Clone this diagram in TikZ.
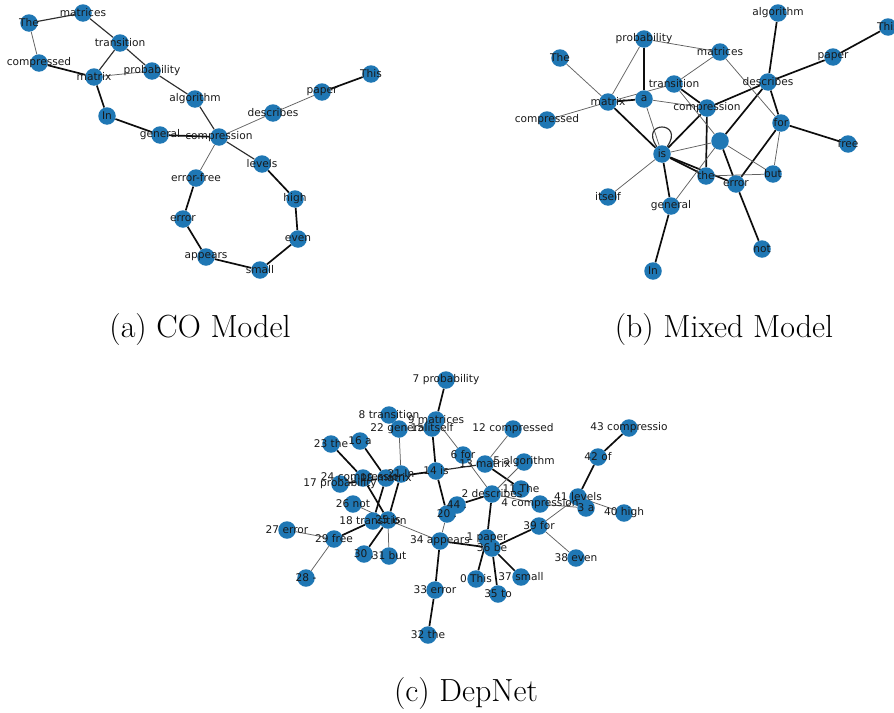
\documentclass[tikz,border=0pt]{standalone}
\usepackage{fontspec}
\newfontfamily\lblfont{DejaVu Sans}
\definecolor{nodeblue}{HTML}{1F77B4}
\pgfdeclarelayer{edgelayer}
\pgfsetlayers{edgelayer,main}
\tikzset{
  vert/.style={circle, fill=nodeblue, draw=none, minimum size=17.5pt, inner sep=0pt},
  lbl/.style={font=\lblfont\fontsize{10.6}{12}\selectfont, text=black!90, inner sep=0pt},
  thin edge/.style={line width=0.75pt, draw=black!62},
  mid edge/.style={line width=1.15pt, draw=black!82},
  bold edge/.style={line width=1.7pt, draw=black!95},
  caption/.style={font=\fontsize{32}{38}\selectfont, inner sep=0pt}
}

% vertex lists: name / x / y / label
\def\panelA{aThe/29/23/The, amatrices/83/13/matrices, atransition/120/43/transition,
  acompressed/39/63/compressed, amatrix/94/77/matrix, aprobability/152/71/probability,
  aalgorithm/195/99/algorithm, aIn/107/116/In, ageneral/160/135/general,
  acompression/219/137/compression, adescribes/273/113/describes, apaper/322/92/paper,
  aThis/371/74/This, alevels/262/164/levels, aerrorfree/196/178/error-free,
  ahigh/295/199/high, aerror/183/219/error, aeven/298/239/even,
  aappears/206/257/appears, asmall/260/270/small}
\def\panelB{balgorithm/778/13/algorithm, bThis/888/27/This, bprobability/644/39/probability,
  bmatrices/720/52/matrices, bThe/560/58/The, bpaper/833/57/paper,
  bdescribes/768/82/describes, btransition/674/84/transition, bmatrix/608/102/matrix,
  ba/644/99/a, bcompression/707/108/compression, bcompressed/547/120/compressed,
  bfor/781/123/for, bfree/848/144/free, bblank/720/141/{}, bis/662/154/is,
  bthe/706/176/the, bbut/773/174/but, berror/736/184/error, bitself/608/197/itself,
  bgeneral/671/206/general, bnot/762/249/not, bIn/653/271/In}
\def\panelC{c0/476/579/0 This, c1/487/538/1 paper, c2/492/494/2 describes, c3/586/508/3 a,
  c4/540/504/4 compression, c5/524/462/5 algorithm, c6/463/455/6 for,
  c7/446/380/7 probability, c8/389/415/8 transition, c9/436/420/9 matrices,
  c11/521/489/11 The, c12/513/429/12 compressed, c13/485/464/13 matrix, c14/436/471/14 is,
  c15/432/428/15 itself, c16/360/441/16 a, c17/340/484/17 probability,
  c18/373/521/18 transition, c19/386/478/19 matrix, c20/447/514/20 ., c21/401/474/21 In,
  c22/399/429/22 general, c23/331/444/23 the, c24/363/478/24 compression, c25/388/520/25 is,
  c26/353/504/26 not, c27/287/530/27 error, c28/306/578/28 -, c29/334/539/29 free,
  c30/364/554/{30 ,}, c31/389/556/31 but, c32/428/635/32 the, c33/435/590/33 error,
  c34/440/541/34 appears, c35/498/594/35 to, c36/492/548/36 be, c37/521/577/37 small,
  c38/576/558/38 even, c39/539/526/39 for, c40/624/513/40 high, c41/578/497/41 levels,
  c42/598/457/42 of, c43/629/428/43 compressio, c44/457/505/44 .}

\begin{document}
\begin{tikzpicture}[x=1pt, y=-1pt]
\useasboundingbox (0,0) rectangle (894,712);
\clip (0,0) rectangle (894,712);

% vertices
\foreach \n/\x/\y/\t in \panelA {\node[vert] (\n) at (\x,\y) {};}
\foreach \n/\x/\y/\t in \panelB {\node[vert] (\n) at (\x,\y) {};}
\foreach \n/\x/\y/\t in \panelC {\node[vert] (\n) at (\x,\y) {};}

\begin{pgfonlayer}{edgelayer}
% (a) CO Model
\foreach \u/\v in {amatrix/aIn, aIn/ageneral, ageneral/acompression, alevels/ahigh,
  ahigh/aeven, aeven/asmall, asmall/aappears, aappears/aerror, aerror/aerrorfree,
  acompressed/amatrix, aThis/apaper}
  \draw[bold edge] (\u) -- (\v);
\foreach \u/\v in {aThe/amatrices, amatrices/atransition, atransition/aprobability,
  aprobability/aalgorithm, acompression/alevels, atransition/amatrix, aalgorithm/acompression}
  \draw[mid edge] (\u) -- (\v);
\foreach \u/\v in {aThe/acompressed, amatrix/aprobability, acompression/adescribes,
  adescribes/apaper, acompression/aerrorfree}
  \draw[thin edge] (\u) -- (\v);

% (b) Mixed Model
\foreach \u/\v in {balgorithm/bdescribes, bThis/bpaper, bpaper/bdescribes,
  bdescribes/bcompression, bdescribes/bblank, bdescribes/bfor, bfor/bfree, bfor/berror,
  bprobability/ba, bmatrix/ba, bmatrix/bis, bis/bcompression, btransition/bcompression,
  bcompression/bthe, bis/bthe, bis/berror, bis/bgeneral, bgeneral/bIn, bblank/berror,
  berror/bnot}
  \draw[bold edge] (\u) -- (\v);
\foreach \u/\v in {bprobability/bmatrices, bprobability/bmatrix, bThe/bmatrix,
  bcompressed/bmatrix, bmatrix/btransition, bmatrices/btransition, bmatrices/bfor,
  ba/bcompression, ba/bis, btransition/bblank, bis/bblank, bis/bitself, bgeneral/bblank,
  bblank/bbut, bthe/bbut, bfor/bbut}
  \draw[thin edge] (\u) -- (\v);
\draw[mid edge] (bis) to[out=125, in=55, looseness=8] (bis);

% (c) DepNet
\foreach \u/\v in {c7/c9, c14/c15, c14/c19, c14/c20, c13/c11, c2/c44, c2/c1,
  c43/c42, c42/c41, c39/c36, c34/c36, c1/c0, c36/c35, c36/c37, c34/c33, c33/c32,
  c29/c18, c30/c25, c25/c21, c19/c18, c24/c25, c23/c24, c16/c19, c17/c19}
  \draw[bold edge] (\u) -- (\v);
\draw[mid edge] (c14) -- (c13);
\foreach \u/\v in {c9/c6, c6/c2, c5/c2, c12/c13, c2/c4, c4/c3, c41/c40, c41/c39,
  c39/c38, c22/c21, c34/c20, c34/c25, c29/c27, c29/c28, c26/c25, c31/c25}
  \draw[thin edge] (\u) -- (\v);
\end{pgfonlayer}

% labels, set above every vertex
\foreach \n/\x/\y/\t in \panelA {\node[lbl] (\n-l) at (\n) {\t};}
\foreach \n/\x/\y/\t in \panelB {\node[lbl] (\n-l) at (\n) {\t};}
\foreach \n/\x/\y/\t in \panelC {\node[lbl] (\n-l) at (\n) {\t};}

% captions
\node[caption] (capA) at (200,330) {(a) CO Model};
\node[caption] (capB) at (724,330) {(b) Mixed Model};
\node[caption] (capC) at (466,694) {(c) DepNet};
\end{tikzpicture}
\end{document}
